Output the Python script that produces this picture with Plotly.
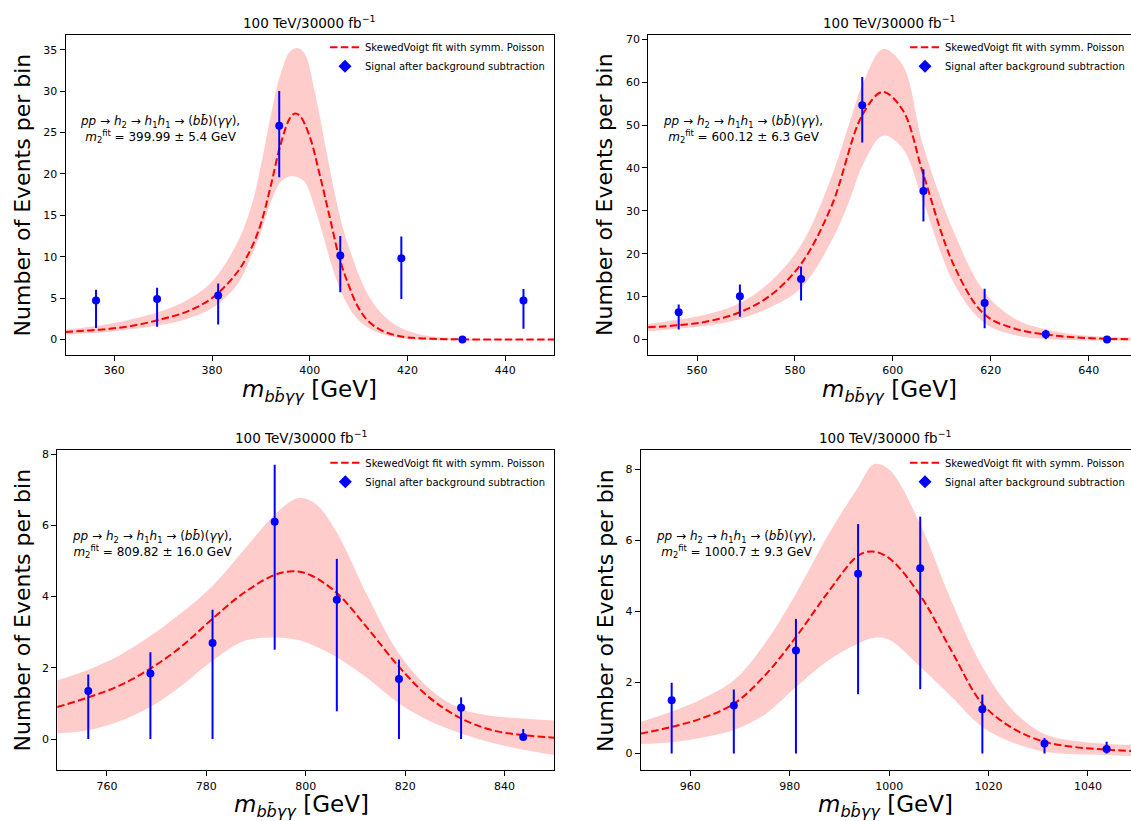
import plotly.graph_objects as go

W, H = 1131, 821

# ---------------- data ----------------
panel_titles = ["100 TeV/30000 fb<sup>−1</sup>"] * 4
fit_labels = ["399.99 ± 5.4 GeV", "600.12 ± 6.3 GeV", "809.82 ± 16.0 GeV", "1000.7 ± 9.3 GeV"]

# panel 1 (m2 ~ 400 GeV)
bins_400 = [356.25, 368.75, 381.25, 393.75, 406.25, 418.75, 431.25, 443.75]
sig_400 = [4.7, 4.9, 5.3, 25.8, 10.15, 9.8, 0.0, 4.7]
err_hi_400 = [1.3, 1.35, 1.45, 4.2, 2.35, 2.65, 0.0, 1.4]
err_lo_400 = [3.3, 3.35, 3.5, 6.2, 4.45, 4.9, 0.0, 3.4]
fitx_400 = [350, 355, 360, 365, 370, 375, 380, 385, 388, 390, 392, 394, 396, 397, 398, 400,
            402, 404, 406, 408, 410, 412, 415, 418, 420, 425, 430, 440, 450]
fity_400 = [0.9, 1.1, 1.35, 1.8, 2.5, 3.4, 5.0, 8.0, 11.0, 14.0, 18.5, 23.5, 26.8, 27.3, 27.0, 24.5,
            20.0, 15.0, 10.0, 6.5, 3.8, 2.2, 1.0, 0.45, 0.25, 0.08, 0.02, 0.0, 0.0]
bandx_400 = [350, 360, 370, 375, 380, 385, 388, 390, 392, 394, 396, 397.5, 399, 401, 403, 405,
             407, 409, 411, 414, 418, 422, 426, 430, 440, 450]
bandhi_400 = [1.2, 2.0, 3.5, 4.8, 7.0, 11.5, 16.0, 21.0, 27.0, 32.0, 34.8, 35.2, 34.5, 30.0, 24.0, 18.0,
              13.0, 9.5, 6.5, 3.6, 1.6, 0.7, 0.3, 0.1, 0.02, 0.0]
bandlo_400 = [0.6, 1.0, 1.8, 2.5, 3.8, 6.5, 10.0, 13.0, 16.5, 19.0, 19.7, 19.6, 19.0, 16.0, 12.0, 8.0,
              5.0, 3.0, 1.8, 0.8, 0.2, -0.02, -0.08, -0.1, -0.1, -0.1]

# panel 2 (m2 ~ 600 GeV)
bins_600 = [556.25, 568.75, 581.25, 593.75, 606.25, 618.75, 631.25, 643.75]
sig_600 = [6.35, 10.1, 14.1, 54.6, 34.6, 8.5, 1.23, 0.0]
err_hi_600 = [1.8, 2.7, 2.9, 6.6, 5.1, 3.3, 1.05, 0.0]
err_lo_600 = [4.0, 4.8, 5.0, 8.7, 7.1, 5.9, 1.17, 0.0]
fitx_600 = [550, 556.25, 562.5, 568.75, 575, 581.25, 587.5, 593.75, 597.9, 602, 606.25, 612.5,
            618.75, 625, 631.25, 637.5, 643.75, 650]
fity_600 = [2.86, 3.33, 4.3, 6.35, 10.3, 17.6, 31.2, 52.3, 57.7, 53.5, 38.4, 17.2,
            5.8, 2.5, 1.16, 0.5, 0.15, 0.05]
bandx_600 = [550, 562.5, 568.75, 575, 581.25, 587.5, 591, 594, 598, 602, 606.25, 612.5,
             618.75, 625, 631.25, 637.5, 643.75, 650]
bandhi_600 = [3.6, 6.0, 8.5, 13.5, 22.0, 38.0, 50.0, 60.0, 67.7, 64.0, 45.0, 25.0,
              11.0, 4.8, 2.3, 1.1, 0.6, 0.45]
bandlo_600 = [1.9, 3.3, 4.8, 7.5, 12.0, 23.0, 32.0, 41.0, 47.5, 44.5, 32.0, 13.0,
              3.8, 1.0, 0.1, -0.2, -0.3, -0.3]

# panel 3 (m2 ~ 800 GeV)
bins_800 = [756.25, 768.75, 781.25, 793.75, 806.25, 818.75, 831.25, 843.75]
sig_800 = [1.35, 1.84, 2.70, 6.10, 3.91, 1.69, 0.88, 0.056]
err_hi_800 = [0.46, 0.60, 0.93, 1.60, 1.15, 0.54, 0.29, 0.23]
err_lo_800 = [1.35, 1.84, 2.70, 3.59, 3.13, 1.69, 0.88, 0.056]
fitx_800 = [750, 756.25, 762.5, 768.75, 775, 781.25, 787.5, 793.75, 797.5, 801, 806.25, 812.5,
            818.75, 825, 831.25, 837.5, 843.75, 850]
fity_800 = [0.9, 1.17, 1.5, 1.98, 2.6, 3.38, 4.1, 4.61, 4.71, 4.6, 4.10, 3.1,
            2.03, 1.15, 0.58, 0.25, 0.11, 0.04]
bandx_800 = [750, 756.25, 762.5, 768.75, 775, 781.25, 787.5, 793.75, 798.5, 802, 806.25, 812.5,
             818.75, 825, 831.25, 837.5, 843.75, 850]
bandhi_800 = [1.65, 1.95, 2.35, 2.9, 3.55, 4.3, 5.3, 6.3, 6.77, 6.6, 5.8, 4.0,
              2.4, 1.4, 0.85, 0.65, 0.58, 0.52]
bandlo_800 = [0.16, 0.25, 0.5, 0.9, 1.5, 2.2, 2.75, 2.85, 2.78, 2.6, 2.3, 1.7,
              1.0, 0.5, 0.16, -0.1, -0.3, -0.45]

# panel 4 (m2 ~ 1000 GeV)
bins_1000 = [956.25, 968.75, 981.25, 993.75, 1006.25, 1018.75, 1031.25, 1043.75]
sig_1000 = [1.50, 1.35, 2.90, 5.06, 5.22, 1.25, 0.28, 0.13]
err_hi_1000 = [0.49, 0.45, 0.89, 1.40, 1.45, 0.41, 0.16, 0.20]
err_lo_1000 = [1.50, 1.35, 2.90, 3.39, 3.41, 1.25, 0.28, 0.13]
fitx_1000 = [950, 956.25, 962.5, 968.75, 975, 981.25, 987.5, 993.75, 996.6, 1000, 1006.25, 1012.5,
             1018.75, 1025, 1031.25, 1037.5, 1043.75, 1050]
fity_1000 = [0.56, 0.75, 1.0, 1.40, 2.2, 3.28, 4.5, 5.57, 5.69, 5.5, 4.45, 2.9,
             1.40, 0.7, 0.33, 0.18, 0.11, 0.06]
bandx_1000 = [950, 956.25, 962.5, 968.75, 975, 981.25, 987.5, 993.75, 997, 1000, 1006.25, 1012.5,
              1018.75, 1025, 1031.25, 1037.5, 1043.75, 1050]
bandhi_1000 = [0.89, 1.18, 1.55, 2.06, 3.1, 4.5, 6.1, 7.5, 8.15, 8.0, 6.46, 4.3,
               2.44, 1.2, 0.55, 0.35, 0.27, 0.24]
bandlo_1000 = [0.27, 0.32, 0.45, 0.66, 1.1, 1.87, 2.6, 3.1, 3.26, 3.2, 2.44, 1.6,
               0.75, 0.3, 0.05, -0.02, -0.04, -0.08]

panels = [
    dict(bins=bins_400, sig=sig_400, ehi=err_hi_400, elo=err_lo_400, fx=fitx_400, fy=fity_400,
         bx=bandx_400, bhi=bandhi_400, blo=bandlo_400),
    dict(bins=bins_600, sig=sig_600, ehi=err_hi_600, elo=err_lo_600, fx=fitx_600, fy=fity_600,
         bx=bandx_600, bhi=bandhi_600, blo=bandlo_600),
    dict(bins=bins_800, sig=sig_800, ehi=err_hi_800, elo=err_lo_800, fx=fitx_800, fy=fity_800,
         bx=bandx_800, bhi=bandhi_800, blo=bandlo_800),
    dict(bins=bins_1000, sig=sig_1000, ehi=err_hi_1000, elo=err_lo_1000, fx=fitx_1000, fy=fity_1000,
         bx=bandx_1000, bhi=bandhi_1000, blo=bandlo_1000),
]

# ---------------- layout geometry (pixels) ----------------
# (left, right, top, bottom) of each plot area
boxes = [(65.5, 554.0, 32.7, 354.0), (648.1, 1131.0, 32.7, 354.0),
         (57.2, 554.3, 449.3, 770.3), (640.6, 1131.0, 449.3, 770.3)]
xranges = [[350, 450], [550, 550 + (1131 - 648.1) / 4.895],
           [750, 850], [950, 950 + (1131 - 640.6) / 4.971]]
yranges = [[-1.89, 36.82], [-3.65, 71.07], [-0.88, 8.11], [-0.476, 8.54]]
dticks = [5, 10, 2, 2]
xticks = [[360, 380, 400, 420, 440], [560, 580, 600, 620, 640],
          [760, 780, 800, 820, 840], [960, 980, 1000, 1020, 1040]]

FONT = "DejaVu Sans"
fig = go.Figure()

def px(x):
    return x / W

def py(y):
    return 1 - y / H

annotations = []
for i, p in enumerate(panels):
    n = "" if i == 0 else str(i + 1)
    xa, ya = "x" + n, "y" + n
    leg = "legend" + n
    # band
    fig.add_trace(go.Scatter(x=p["bx"], y=p["blo"], mode="lines", line=dict(width=0, shape="spline"),
                             xaxis=xa, yaxis=ya, showlegend=False, hoverinfo="skip"))
    fig.add_trace(go.Scatter(x=p["bx"], y=p["bhi"], mode="lines", line=dict(width=0, shape="spline"),
                             fill="tonexty", fillcolor="rgba(255,0,0,0.2)",
                             xaxis=xa, yaxis=ya, showlegend=False, hoverinfo="skip"))
    # fit
    fig.add_trace(go.Scatter(x=p["fx"], y=p["fy"], mode="lines",
                             line=dict(color="red", width=2, dash="7.5px,3.3px", shape="spline"),
                             name="SkewedVoigt fit with symm. Poisson",
                             xaxis=xa, yaxis=ya, legend=leg))
    # data
    fig.add_trace(go.Scatter(x=p["bins"], y=p["sig"], mode="markers",
                             marker=dict(color="blue", size=8),
                             error_y=dict(type="data", symmetric=False, array=p["ehi"], arrayminus=p["elo"],
                                          color="blue", thickness=2, width=0),
                             xaxis=xa, yaxis=ya, showlegend=False))
    fig.add_trace(go.Scatter(x=[None], y=[None], mode="markers",
                             marker=dict(color="blue", size=10, symbol="diamond"),
                             name="Signal after background subtraction",
                             xaxis=xa, yaxis=ya, legend=leg))

    l, r, t, b = boxes[i]
    right_cut = r >= W - 0.5
    axx = dict(domain=[px(l), px(r)], range=xranges[i], anchor=ya,
               tickvals=xticks[i], ticks="outside", ticklen=5, tickwidth=1, tickcolor="black",
               showline=True, linecolor="black", linewidth=1, mirror=True,
               showgrid=False, zeroline=False, tickfont=dict(family=FONT, size=11, color="black"))
    axy = dict(domain=[py(b), py(t)], range=yranges[i], anchor=xa,
               dtick=dticks[i], tick0=0, ticks="outside", ticklen=5, tickwidth=1, tickcolor="black",
               showline=True, linecolor="black", linewidth=1, mirror=not right_cut,
               showgrid=False, zeroline=False, tickfont=dict(family=FONT, size=11, color="black"))
    fig.layout["xaxis" + n] = axx
    fig.layout["yaxis" + n] = axy

    fig.layout[leg] = dict(x=px((r - 4) if not right_cut else (W - 1)), y=py(t - 2),
                           xanchor="right", yanchor="top", traceorder="normal",
                           bgcolor="rgba(255,255,255,0)", font=dict(family=FONT, size=10, color="black"),
                           tracegroupgap=0, itemwidth=30)

    cx = (l + min(r, l + 489)) / 2
    # title
    annotations.append(dict(text=panel_titles[i], x=px(cx), y=py(t - 13), xref="paper", yref="paper",
                            xanchor="center", yanchor="middle",
                            showarrow=False, font=dict(family=FONT, size=13.5, color="black")))
    # x title
    annotations.append(dict(text="<i>m</i><sub><i>bb̄γγ</i></sub> [GeV]", x=px(cx), y=py(b + 36),
                            xanchor="center", yanchor="middle",
                            xref="paper", yref="paper", showarrow=False,
                            font=dict(family=FONT, size=23, color="black")))
    # y title
    annotations.append(dict(text="Number of Events per bin", x=px(l - 43 if i in (0, 1) else l - 35),
                            y=py((t + b) / 2), xref="paper", yref="paper", showarrow=False, textangle=-90,
                            xanchor="center", yanchor="middle",
                            font=dict(family=FONT, size=22, color="black")))
    # process label
    annotations.append(dict(text="<i>pp</i> → <i>h</i><sub>2</sub> → <i>h</i><sub>1</sub><i>h</i><sub>1</sub> → (<i>bb̄</i>)(<i>γγ</i>),<br>"
                                 "<i>m</i><sub>2</sub><sup>fit</sup> = " + fit_labels[i],
                            x=px(l + 95), y=py(t + 95), xref="paper", yref="paper", showarrow=False,
                            xanchor="center", yanchor="middle",
                            align="center", font=dict(family=FONT, size=12, color="black")))

fig.update_layout(width=W, height=H, margin=dict(l=0, r=0, t=0, b=0),
                  plot_bgcolor="white", paper_bgcolor="white", annotations=annotations)

fig.write_html("out.html", config={"displayModeBar": False},
               post_script="document.body.style.margin='0';document.body.style.overflow='hidden';")
